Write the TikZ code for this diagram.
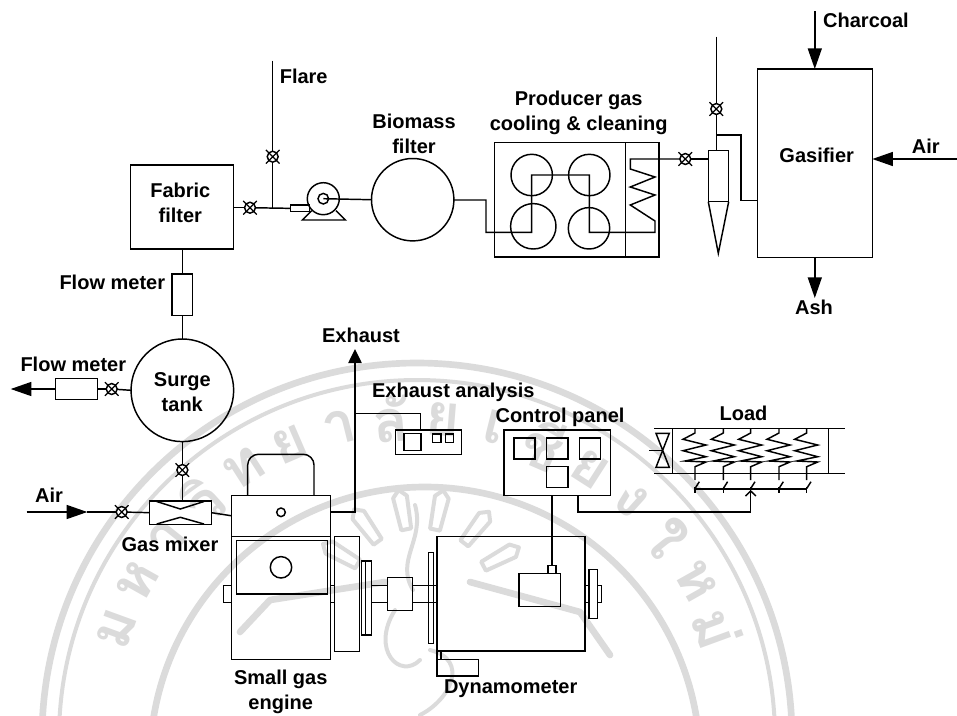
\documentclass[tikz,border=0pt]{standalone}
\usepackage{fontspec}
\setmainfont{Liberation Sans}
\newfontfamily\thaifont[Script=Thai]{Loma}
\usetikzlibrary{arrows.meta,fit,calc}
\definecolor{wmgray}{gray}{0.86}
\tikzset{
  x=0.75pt,y=-0.75pt,
  line/.style={draw=black,line width=1.1pt,line join=miter},
  box/.style={line,rectangle,inner sep=0pt,outer sep=0pt},
  round/.style={line,circle,inner sep=0pt,outer sep=0pt},
  label/.style={font=\fontsize{15}{18.6}\selectfont\bfseries,align=center,inner sep=0pt},
  valvec/.style={line,circle,fill=white,inner sep=0pt,outer sep=0pt,minimum size=8.2pt},
  flow/.style={line,-{Triangle[length=15.5pt,width=10.5pt]}},
  smallflow/.style={line,-{Triangle[length=10.5pt,width=10pt]}},
  wm/.style={draw=wmgray,line width=5pt,line cap=round,line join=round},
  wmt/.style={draw=wmgray,line width=3pt,line cap=round,line join=round},
}
\newcommand{\bx}[5]{\node[box,fit={(#2,#3)(#4,#5)}] (#1) {};}
\newcommand{\valve}[3]{\node[valvec] (#1) at (#2,#3) {};
  \draw[line,line width=0.9pt] ($(#1.center)+(-6.8,-6.8)$) -- ($(#1.center)+(6.8,6.8)$)
     ($(#1.center)+(-6.8,6.8)$) -- ($(#1.center)+(6.8,-6.8)$);}
\newcommand{\rnode}[4]{\node[round,minimum size=#4*0.75pt] (#1) at (#2,#3) {};}
\begin{document}
\begin{tikzpicture}
\useasboundingbox (0,0) rectangle (957,715);
% ---- watermark seal
\begin{scope}
\clip (0,0) rectangle (957,715);
\draw[wm] (417,738) circle[radius=375];
\draw[wmt] (417,738) circle[radius=358];
\draw[wm] (425,762) circle[radius=275];
\foreach \ch [count=\i] in {ม,ห,า,วิ,ท,ย,า,ลั,ย,เ,ชี,ย,ง,ใ,ห,ม่}{
  \pgfmathsetmacro\wa{160-(\i-1)*9.33}
  \pgfmathsetmacro\wrot{\wa-90}
  \node[text=wmgray,font=\thaifont\bfseries\fontsize{44}{44}\selectfont,rotate=\wrot,inner sep=0pt] (wm\i)
    at ({417+320*cos(\wa)},{738-320*sin(\wa)}) {\ch};
}
\foreach \wr in {-62,-38,-12,11,36,60}{
  \begin{scope}[shift={(420,600)},rotate=\wr]
    \draw[wmt] (-7,-105) -- (0,-112) -- (7,-105) -- (5,-72) -- (-5,-72) -- cycle;
  \end{scope}
}
\draw[wm] (240,632) -- (270,600) -- (385,582);
\draw[wm] (610,655) -- (580,612) -- (470,582);
\draw[wmt] (413,590) .. controls (395,560) and (425,540) .. (415,505);
\draw[wmt] (395,610) .. controls (370,650) and (400,680) .. (420,660);
\draw[wmt] (430,650) .. controls (470,660) and (450,700) .. (420,715);
\end{scope}
% ---- gasifier
\bx{gasifier}{757.3}{69}{872.3}{257.7}
\node[label] (tgas) at (816.7,155) {Gasifier};
\coordinate (charsrc) at (814.8,11);
\draw[flow] (charsrc) -- (charsrc |- gasifier.north);
\node[label] (tchar) at (866,20) {Charcoal};
\coordinate (airsrc) at (957,159);
\draw[flow] (airsrc) -- (airsrc -| gasifier.east);
\node[label] (tair) at (925.7,146) {Air};
\coordinate (ashend) at (814.8,298);
\draw[flow] (ashend |- gasifier.south) -- (ashend);
\node[label] (tash) at (814,307.5) {Ash};
% ---- cyclone
\bx{cyc}{708.3}{150.3}{728.7}{201.7}
\coordinate (conetip) at (718.3,253.3);
\draw[line] (cyc.south west) -- (conetip) -- (cyc.south east);
\coordinate (cyctop) at (716.3,36.7);
\valve{vcyc}{716.3}{109}
\coordinate (cycin) at (716.3,150.3);
\draw[line] (cyctop) -- (vcyc);
\draw[line] (vcyc) -- (cycin);
\coordinate (brk) at (716.3,135);
\draw[line] (brk) -- (741,135) |- (757.3,200.7);
% ---- cooler
\bx{cooler}{494.3}{142.3}{659}{257}
\draw[line] (625.7,142.3) -- (625.7,257);
\node[label] (tprod) at (578.7,113) {Producer gas\\cooling \& cleaning};
\valve{vcool}{685.3}{159}
\coordinate (coil) at (630.3,159);
\draw[line] (708.3,159) -- (vcool);
\draw[line] (vcool) -- (coil) -- (630.3,169) -- (655,177) -- (630.3,187) -- (655,195) -- (630.3,205) -- (655,221) -- (655,232.3) -- (589.3,232.3) -- (589.3,175) -- (531.7,175) -- (531.7,232.3) -- (486,232.3) -- (486,200) -- (453.9,200);
\rnode{c1}{531.7}{175}{41.4}
\rnode{c2}{589.3}{175}{41.4}
\rnode{c3}{533.3}{226.3}{45.4}
\rnode{c4}{589}{228.3}{41.4}
% ---- biomass filter, pump
\rnode{biom}{412.7}{199.7}{82.4}
\node[label] (tbiom) at (414,133.5) {Biomass\\filter};
\rnode{pump}{323.3}{198.7}{32}
\rnode{pumpi}{323.3}{198.7}{10.6}
\draw[line] (pumpi.center) -- (biom.west);
\coordinate (bl) at (302.3,220);
\coordinate (br) at (345.3,220);
\draw[line] (311.7,210.7) -- (bl) -- (br) -- (336,210.7);
\bx{pout}{290.7}{205}{309.5}{211.7}
% ---- fabric filter
\bx{fabric}{130.3}{165}{233.3}{249}
\node[label] (tfab) at (180.3,203) {Fabric\\filter};
\valve{vfab}{250}{207.7}
\draw[line] (233.3,207.7) -- (vfab);
\draw[line] (vfab) -- (pout.west);
\coordinate (flaretop) at (272.7,60.7);
\coordinate (flarej) at (272.7,207.7);
\valve{vflare}{272.7}{156.7}
\draw[line] (flaretop) -- (vflare);
\draw[line] (vflare) -- (flarej);
\node[label] (tflare) at (303.7,76.7) {Flare};
% ---- flow meter 1, surge tank
\bx{fm1}{172}{274}{192.7}{315.3}
\node[label] (tfm1) at (112.3,282.5) {Flow meter};
\draw[line] (182.35,249) -- (fm1.north);
\rnode{surge}{182.35}{390.3}{102.6}
\draw[line] (fm1.south) -- (surge.north);
\node[label] (tsurge) at (182.3,392.5) {Surge\\tank};
\valve{vsur}{111.7}{389}
\bx{fm2}{55.7}{378.7}{97.7}{399.3}
\draw[line] (surge.west) -- (vsur);
\draw[line] (vsur) -- (fm2.east);
\coordinate (fm2end) at (10.7,389);
\draw[flow] (fm2.west) -- (fm2end);
\node[label] (tfm2) at (73.3,364.5) {Flow meter};
% ---- gas mixer
\bx{mixer}{149.7}{501}{211.3}{524.3}
\valve{vmix}{182.35}{470}
\draw[line] (surge.south) -- (vmix);
\draw[line] (vmix) -- (182.35,501);
\draw[line] (156.7,501.5) -- (180.3,509) -- (204,501.5);
\draw[line] (156.7,524) -- (180.3,517.3) -- (204,524);
\node[label] (tmix) at (170,544.5) {Gas mixer};
\coordinate (airl) at (26.7,512);
\coordinate (airm) at (87.3,512);
\draw[flow] (airl) -- (airm);
\valve{vair}{121.7}{512}
\draw[line] (airm) -- (vair);
\draw[line] (vair) -- (mixer.west);
\node[label] (tair2) at (49,495.5) {Air};
% ---- engine
\bx{engtop}{231.7}{495.3}{330.7}{536.3}
\bx{englow}{231.7}{536.3}{330.7}{659.7}
\draw[line] (mixer.east) -- (engtop.west);
\draw[line,rounded corners=8pt] (247.7,495.3) -- (247.7,454.3) -- (314,454.3) -- (314,495.3);
\rnode{engdot}{281}{512.3}{8.6}
\bx{engwin}{236.7}{540.7}{327.3}{594}
\rnode{engc}{281}{567.3}{21.4}
\bx{engl}{223.3}{585.7}{231.7}{602.3}
\bx{engr}{330.7}{585.7}{334.3}{602.3}
\bx{fly}{334.3}{536.7}{359.3}{651.7}
\bx{disc}{361.7}{561}{371.7}{635}
\draw[line] (365.7,561) -- (365.7,635);
\node[label] (teng) at (280.7,692) {Small gas\\engine};
% ---- shaft and dynamometer
\bx{coup}{387.3}{577.7}{412.7}{610.3}
\draw[line] (371.7,585.7) -- (387.3,585.7) (371.7,602.3) -- (387.3,602.3);
\bx{dyno}{437}{536.7}{585}{651}
\draw[line] (412.7,585.7) -- (437,585.7) (412.7,602.3) -- (437,602.3);
\bx{dyndisc}{428.3}{552.7}{433.7}{643.3}
\bx{dynbox}{519}{573.3}{560.3}{606.3}
\bx{dynsm}{548}{565.3}{556}{573.3}
\bx{dynr}{585}{585.7}{589}{602.3}
\bx{dynd2}{589}{569.3}{597.3}{618.7}
\bx{dynr2}{597.3}{585.7}{601.7}{602.3}
\bx{foot}{437}{659.3}{478.3}{676}
\bx{footl}{437}{651}{441}{659.3}
\node[label] (tdyn) at (510.7,688.5) {Dynamometer};
% ---- exhaust
\coordinate (exhtip) at (355,349);
\draw[smallflow] (engtop.east |- 0,512) -| (exhtip);
\node[label] (texh) at (361,335.5) {Exhaust};
\bx{ana}{395.7}{430}{461.7}{454.3}
\bx{ana1}{404}{433.3}{421}{450.7}
\bx{ana2}{432.7}{434}{441}{442.3}
\bx{ana3}{445.3}{434}{453.7}{442.3}
\coordinate (exhj) at (355,413.3);
\draw[line] (exhj) -| (420.7,430);
\node[label] (tana) at (453.3,392.5) {Exhaust analysis};
% ---- control panel
\bx{panel}{504}{430}{610.7}{495.7}
\bx{p1}{514}{438}{535}{459}
\bx{p2}{546.7}{438}{568}{459}
\bx{p3}{579.3}{438}{600.7}{459}
\bx{p4}{546.7}{466.7}{568}{487.7}
\node[label] (tpan) at (560,417.5) {Control panel};
\draw[line] (dynsm.north |- panel.south) -- (dynsm.north);
% ---- load
\coordinate (bt1) at (654,428.7);  \coordinate (bt2) at (845,428.7);
\coordinate (bb1) at (654,473.7);  \coordinate (bb2) at (845,473.7);
\draw[line] (bt1) -- (bt2);
\draw[line] (bb1) -- (bb2);
\draw[line] (672.3,428.7) -- (672.3,473.7);
\draw[line] (828.3,428.7) -- (828.3,473.7);
\draw[line] (656,433.3) -- (669.3,433.3) -- (656,467.3) -- (669.3,467.3) -- cycle;
\draw[line] (649.3,450.3) -- (662.7,450.3);
\node[label] (tload) at (743.5,413) {Load};
\foreach \lx in {695,723.3,750.7,779,806.7}{
  \draw[line] (\lx,428.7) -- (\lx,433) -- (\lx-12,439.3) -- (\lx+11,445) -- (\lx-12,450.7) -- (\lx+11,456.7) -- (\lx-10,461) -- (\lx+11,462) -- (\lx,466.7) -- (\lx,480);
  \draw[line] (\lx+4.3,481.7) -- (\lx,488.5);
  \draw[line] (\lx,486.5) -- (\lx,492.5);
}
\draw[line] (695,489) -- (806.7,489);
\coordinate (lin) at (750.7,491);
\draw[line] (745.5,496) -- (lin) -- (755.9,496);
\draw[line] (578,495.7) |- (750.7,512) -- (lin);
\end{tikzpicture}
\end{document}
